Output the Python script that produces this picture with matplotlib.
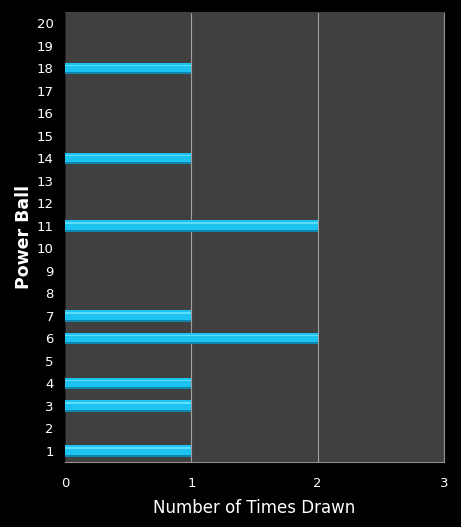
import numpy as np
import matplotlib.pyplot as plt

balls = list(range(1, 21))
drawn_balls = [1, 3, 4, 6, 7, 11, 14, 18]
drawn_counts = [1, 1, 1, 2, 1, 2, 1, 1]
x_ticks = [0, 1, 2, 3]

fig = plt.figure(figsize=(4.61, 5.27), dpi=100, facecolor="black")
ax = fig.add_axes([0.141, 0.123, 0.822, 0.854])
ax.set_facecolor("#404040")

# base bar (darker bottom edge) plus brighter upper part for the glossy look
bh = 0.52
ax.barh(drawn_balls, drawn_counts, height=bh, color="#0e86ad",
        linewidth=0, zorder=3)
ax.barh(np.array(drawn_balls) + bh * 0.08, drawn_counts, height=bh * 0.8,
        color="#1cc3f0", linewidth=0, zorder=4)
ax.barh(np.array(drawn_balls) + bh * 0.25, drawn_counts, height=bh * 0.15,
        color="#5ddcfb", linewidth=0, zorder=5)

ax.set_xlim(0, 3)
ax.set_ylim(0.5, 20.5)
ax.set_xticks(x_ticks)
ax.set_yticks(balls)
ax.tick_params(colors="white", labelsize=9.5, length=0)
ax.tick_params(axis="x", pad=11)
ax.tick_params(axis="y", pad=8)
ax.xaxis.grid(True, color="#a0a0a0", linewidth=0.8, zorder=1)
ax.set_axisbelow(True)
for s in ax.spines.values():
    s.set_color("#909090")
    s.set_linewidth(0.8)
ax.spines["left"].set_color("#202020")
ax.spines["top"].set_color("#404040")

ax.set_xlabel("Number of Times Drawn", color="white", fontsize=12, labelpad=6)
ax.set_ylabel("Power Ball", color="white", fontsize=12.5, fontweight="bold",
              labelpad=3)

fig.savefig("out.png", facecolor="black")
